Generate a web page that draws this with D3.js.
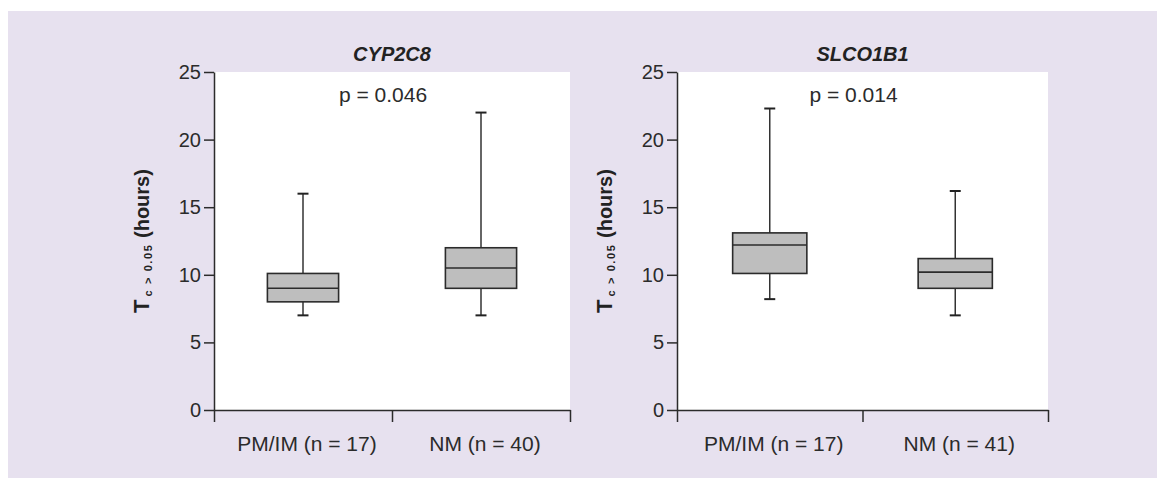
<!DOCTYPE html>
<html>
<head>
<meta charset="utf-8">
<script src="https://cdn.jsdelivr.net/npm/d3@7"></script>
<style>
  body { margin: 0; background: #fff; }
  svg { display: block; font-family: "Liberation Sans", Arial, sans-serif; }
  .axis path, .axis line { stroke: #2b2b2b; stroke-width: 1.5; }
  .axis text { font-size: 20px; fill: #2b2b2b; font-family: "Liberation Sans", Arial, sans-serif; }
</style>
</head>
<body>
<div class="box_chart"></div>
<script>
// data
const genes = ["CYP2C8", "SLCO1B1"];
const pLabels = ["p = 0.046", "p = 0.014"];
const cyp_groups = ["PM/IM (n = 17)", "NM (n = 40)"];
const slco_groups = ["PM/IM (n = 17)", "NM (n = 41)"];
// box stats: min, q1, median, q3, max
const cyp_min = [7, 7];
const cyp_q1 = [8, 9];
const cyp_med = [9, 10.5];
const cyp_q3 = [10.1, 12];
const cyp_max = [16, 22];
const slco_min = [8.2, 7];
const slco_q1 = [10.1, 9];
const slco_med = [12.2, 10.2];
const slco_q3 = [13.1, 11.2];
const slco_max = [22.3, 16.2];
const yTicks = [0, 5, 10, 15, 20, 25];

const W = 1157, H = 478;
const TOP = 72, BOTTOM = 410;
const panels = [
  {gene: genes[0], p: pLabels[0], groups: cyp_groups, min: cyp_min, q1: cyp_q1, med: cyp_med, q3: cyp_q3, max: cyp_max, x0: 214, x1: 570, ylab: 149},
  {gene: genes[1], p: pLabels[1], groups: slco_groups, min: slco_min, q1: slco_q1, med: slco_med, q3: slco_q3, max: slco_max, x0: 677, x1: 1048, ylab: 612}
];

const svg = d3.select(".box_chart")
  .append("svg")
  .attr("width", W)
  .attr("height", H);

// lavender background panel
svg.append("rect")
  .attr("x", 8).attr("y", 11)
  .attr("width", W - 8).attr("height", H - 11)
  .attr("fill", "#e7e1ef");

const yScale = d3.scaleLinear().domain([0, 25]).range([BOTTOM, TOP]);

panels.forEach(pn => {
  const g = svg.append("g");

  const xBand = d3.scaleBand().domain(pn.groups).range([pn.x0, pn.x1]);
  const xEdge = d3.scaleLinear().domain([0, pn.groups.length]).range([pn.x0, pn.x1]);

  g.append("rect")
    .attr("x", pn.x0).attr("y", TOP)
    .attr("width", pn.x1 - pn.x0).attr("height", BOTTOM - TOP)
    .attr("fill", "#fff");

  g.append("g")
    .attr("class", "axis")
    .attr("transform", "translate(" + pn.x0 + ",0)")
    .call(d3.axisLeft(yScale).tickValues(yTicks).tickSize(10).tickSizeOuter(0).tickPadding(3));

  g.append("g")
    .attr("class", "axis")
    .attr("transform", "translate(0," + BOTTOM + ")")
    .call(d3.axisBottom(xEdge).tickValues(d3.range(pn.groups.length + 1)).tickFormat("").tickSize(12).tickSizeOuter(0));

  g.selectAll(".xlab")
    .data(pn.groups).enter()
    .append("text")
    .attr("x", d => xBand(d) + xBand.bandwidth() / 2 + 4)
    .attr("y", 451)
    .attr("text-anchor", "middle")
    .attr("font-size", 21)
    .attr("fill", "#2b2b2b")
    .text(d => d);

  // title + p value
  g.append("text")
    .attr("x", (pn.x0 + pn.x1) / 2).attr("y", 61)
    .attr("text-anchor", "middle")
    .attr("font-size", 20).attr("font-weight", "bold").attr("font-style", "italic")
    .attr("fill", "#222")
    .text(pn.gene);

  g.append("text")
    .attr("x", (pn.x0 + pn.x1) / 2 - 9).attr("y", 102)
    .attr("text-anchor", "middle")
    .attr("font-size", 21)
    .attr("fill", "#2b2b2b")
    .text(pn.p);

  // y label
  const yl = g.append("text")
    .attr("transform", "rotate(-90)")
    .attr("x", -(TOP + BOTTOM) / 2)
    .attr("y", pn.ylab)
    .attr("text-anchor", "middle")
    .attr("font-weight", "bold")
    .attr("font-size", 20)
    .attr("fill", "#222");
  yl.append("tspan").attr("font-size", 22).text("T");
  yl.append("tspan").attr("font-size", 11).attr("letter-spacing", 1.6).attr("dx", 3).attr("dy", 3).text("c > 0.05");
  yl.append("tspan").attr("dy", -3).text(" (hours)");

  // boxes
  const bw = xBand.bandwidth() * 0.4;
  const cap = 11;
  const boxes = g.selectAll(".bx")
    .data(pn.groups.map((d, i) => ({name: d, i: i}))).enter()
    .append("g")
    .attr("class", "bx");

  boxes.append("line")
    .attr("x1", d => xBand(d.name) + xBand.bandwidth() / 2)
    .attr("x2", d => xBand(d.name) + xBand.bandwidth() / 2)
    .attr("y1", d => yScale(pn.min[d.i]))
    .attr("y2", d => yScale(pn.max[d.i]))
    .attr("stroke", "#333").attr("stroke-width", 1.5);

  ["min", "max"].forEach(k => {
    boxes.append("line")
      .attr("x1", d => xBand(d.name) + xBand.bandwidth() / 2 - cap / 2)
      .attr("x2", d => xBand(d.name) + xBand.bandwidth() / 2 + cap / 2)
      .attr("y1", d => yScale(pn[k][d.i]))
      .attr("y2", d => yScale(pn[k][d.i]))
      .attr("stroke", "#222").attr("stroke-width", 2);
  });

  boxes.append("rect")
    .attr("x", d => xBand(d.name) + (xBand.bandwidth() - bw) / 2)
    .attr("width", bw)
    .attr("y", d => yScale(pn.q3[d.i]))
    .attr("height", d => yScale(pn.q1[d.i]) - yScale(pn.q3[d.i]))
    .attr("fill", "#bebebe")
    .attr("stroke", "#2b2b2b").attr("stroke-width", 1.6);

  boxes.append("line")
    .attr("x1", d => xBand(d.name) + (xBand.bandwidth() - bw) / 2)
    .attr("x2", d => xBand(d.name) + (xBand.bandwidth() + bw) / 2)
    .attr("y1", d => yScale(pn.med[d.i]))
    .attr("y2", d => yScale(pn.med[d.i]))
    .attr("stroke", "#2b2b2b").attr("stroke-width", 1.6);
});
</script>
</body>
</html>
